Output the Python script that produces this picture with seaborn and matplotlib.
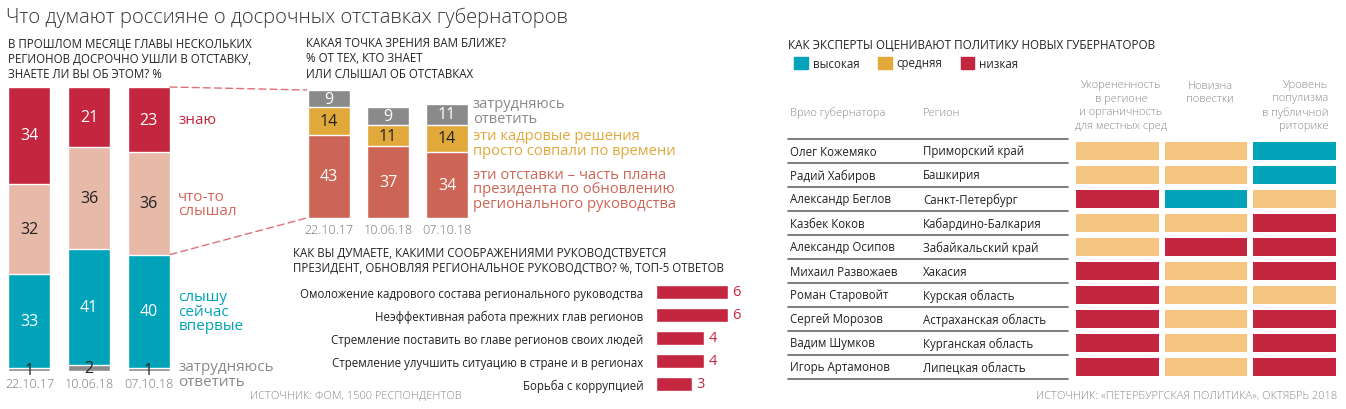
import matplotlib
matplotlib.use('Agg')
import matplotlib.pyplot as plt
import matplotlib.transforms as mtransforms
from matplotlib.colors import ListedColormap
from matplotlib.patches import Patch, ConnectionPatch
import seaborn as sns
import pandas as pd
import numpy as np

# --- данные ---
dates = ['22.10.17', '10.06.18', '07.10.18']

# панель 1: знаете ли вы об отставках, %
know = [34, 21, 23]
heard = [32, 36, 36]
first_time = [33, 41, 40]
hard1 = [1, 2, 1]

# панель 2: какая точка зрения ближе, %
plan = [43, 37, 34]
coincide = [14, 11, 14]
hard2 = [9, 9, 11]

# панель 3: топ-5 ответов
reasons = ['Омоложение кадрового состава регионального руководства',
           'Неэффективная работа прежних глав регионов',
           'Стремление поставить во главе регионов своих людей',
           'Стремление улучшить ситуацию в стране и в регионах',
           'Борьба с коррупцией']
shares = [6, 6, 4, 4, 3]

# панель 4: оценки экспертов
governors = ['Олег Кожемяко', 'Радий Хабиров', 'Александр Беглов', 'Казбек Коков',
             'Александр Осипов', 'Михаил Развожаев', 'Роман Старовойт',
             'Сергей Морозов', 'Вадим Шумков', 'Игорь Артамонов']
regions = ['Приморский край', 'Башкирия', 'Санкт-Петербург', 'Кабардино-Балкария',
           'Забайкальский край', 'Хакасия', 'Курская область',
           'Астраханская область', 'Курганская область', 'Липецкая область']
levels = ['высокая', 'средняя', 'низкая']
rooted = ['средняя', 'средняя', 'низкая', 'средняя', 'средняя',
          'низкая', 'низкая', 'низкая', 'низкая', 'низкая']
novelty = ['средняя', 'средняя', 'высокая', 'средняя', 'низкая',
           'средняя', 'средняя', 'средняя', 'средняя', 'средняя']
populism = ['высокая', 'высокая', 'средняя', 'низкая', 'низкая',
            'низкая', 'средняя', 'низкая', 'низкая', 'низкая']

# --- цвета ---
RED = '#C4263F'
PINK = '#E7B9A9'
TEAL = '#00A3B8'
GRAY = '#8A8A8A'
SALMON = '#CD6556'
GOLD = '#E1A83A'
LIGHTGOLD = '#F5C682'
DARK = '#222222'
LIGHT = '#888888'

sns.set_style('white')
plt.rcParams['font.family'] = ['Open Sans', 'DejaVu Sans']

W, H = 1346, 410
fig = plt.figure(figsize=(W / 100, H / 100), dpi=100)


def px_axes(x0, y0, x1, y1):
    ax = fig.add_axes([x0 / W, 1 - y1 / H, (x1 - x0) / W, (y1 - y0) / H])
    return ax


def ftext(x, y, s, **kw):
    fig.text(x / W, 1 - y / H, s, **kw)


def clean(ax):
    sns.despine(ax=ax, left=True, bottom=True)
    ax.set_xlabel('')
    ax.set_ylabel('')


# заголовок
ftext(6, 18, 'Что думают россияне о досрочных отставках губернаторов',
      fontsize=14.5, fontweight='light', color='#333333', va='center')

# ---------- панель 1 ----------
ftext(8, 59, 'В ПРОШЛОМ МЕСЯЦЕ ГЛАВЫ НЕСКОЛЬКИХ\nРЕГИОНОВ ДОСРОЧНО УШЛИ В ОТСТАВКУ,\nЗНАЕТЕ ЛИ ВЫ ОБ ЭТОМ? %',
      fontsize=8.3, color=DARK, va='center', linespacing=1.25)

df1 = pd.DataFrame({'date': dates, 'know': know, 'heard': heard,
                    'first': first_time, 'hard': hard1})
ax1 = px_axes(8, 88, 170, 372)
layers1 = [('know', RED), ('heard', PINK), ('first', TEAL), ('hard', GRAY)]
cols1 = ['hard', 'first', 'heard', 'know']
for name, col in layers1:
    top = df1[cols1[:cols1.index(name) + 1]].sum(axis=1)
    sns.barplot(x=df1['date'], y=top, color=col, saturation=1, width=0.706, ax=ax1)
ax1.set_xlim(-0.36, 2.36)
ax1.set_ylim(0, 100)
ax1.set_xticks([])
ax1.set_yticks([])
clean(ax1)

txtcol1 = {'know': 'white', 'heard': DARK, 'first': 'white', 'hard': DARK}
for i in range(3):
    base = 0
    for name in cols1:
        v = df1[name][i]
        ax1.text(i, base + v / 2, str(v), ha='center', va='center',
                 fontsize=11.5, color=txtcol1[name], clip_on=False)
        base += v
    ax1.text(i, -4.3, dates[i], ha='center', va='center', fontsize=9,
             color='#777777', fontweight='light', clip_on=False)

# подписи категорий по третьему столбцу
c_know = 100 - know[2] / 2
c_heard = hard1[2] + first_time[2] + heard[2] / 2
c_first = hard1[2] + first_time[2] / 2
ax1.text(2.5, c_know, 'знаю', color=RED, fontsize=11, va='center', clip_on=False)
ax1.text(2.5, c_heard, 'что-то\nслышал', color='#D4665C', fontsize=11, va='center',
         linespacing=0.95, clip_on=False)
ax1.text(2.5, c_first, 'слышу\nсейчас\nвпервые', color=TEAL, fontsize=11, va='center',
         linespacing=0.95, clip_on=False)
ax1.text(2.5, -1, 'затрудняюсь\nответить', color=GRAY, fontsize=11, va='center',
         linespacing=0.95, clip_on=False)

# ---------- панель 2 ----------
ftext(306, 59, 'КАКАЯ ТОЧКА ЗРЕНИЯ ВАМ БЛИЖЕ?\n% ОТ ТЕХ, КТО ЗНАЕТ\nИЛИ СЛЫШАЛ ОБ ОТСТАВКАХ',
      fontsize=8.3, color=DARK, va='center', linespacing=1.25)

df2 = pd.DataFrame({'date': dates, 'plan': plan, 'coincide': coincide, 'hard': hard2})
ax2 = px_axes(299.5, 91, 476.5, 219)
cols2 = ['plan', 'coincide', 'hard']
for name, col in [('hard', GRAY), ('coincide', GOLD), ('plan', SALMON)]:
    top = df2[cols2[:cols2.index(name) + 1]].sum(axis=1)
    sns.barplot(x=df2['date'], y=top, color=col, saturation=1, width=0.71, ax=ax2)
ax2.set_xlim(-0.5, 2.5)
ax2.set_ylim(0, 66)
ax2.set_xticks([])
ax2.set_yticks([])
clean(ax2)

txtcol2 = {'plan': 'white', 'coincide': DARK, 'hard': 'white'}
for i in range(3):
    base = 0
    for name in cols2:
        v = df2[name][i]
        ax2.text(i, base + v / 2, str(v), ha='center', va='center',
                 fontsize=11.5, color=txtcol2[name], clip_on=False)
        base += v
    ax2.text(i, -5.8, dates[i], ha='center', va='center', fontsize=9,
             color='#777777', fontweight='light', clip_on=False)

ftext(473, 112, 'затрудняюсь\nответить', color=GRAY, fontsize=10.6, va='center', linespacing=0.95)
ftext(473, 144, 'эти кадровые решения\nпросто совпали по времени', color=GOLD, fontsize=10.6,
      va='center', linespacing=0.95)
ftext(473, 190, 'эти отставки – часть плана\nпрезидента по обновлению\nрегионального руководства',
      color=SALMON, fontsize=10.6, va='center', linespacing=0.95)

# пунктирные связи
for yA, yB in [(100, sum([plan[0], coincide[0], hard2[0]])), (hard1[2] + first_time[2], 0)]:
    con = ConnectionPatch(xyA=(2.36, yA), coordsA=ax1.transData,
                          xyB=(-0.38, yB), coordsB=ax2.transData,
                          color='#E0707A', lw=1, linestyle=(0, (5, 3)))
    fig.add_artist(con)

# ---------- панель 3 ----------
ftext(293, 261, 'КАК ВЫ ДУМАЕТЕ, КАКИМИ СООБРАЖЕНИЯМИ РУКОВОДСТВУЕТСЯ\nПРЕЗИДЕНТ, ОБНОВЛЯЯ РЕГИОНАЛЬНОЕ РУКОВОДСТВО? %, ТОП-5 ОТВЕТОВ',
      fontsize=8.3, color=DARK, va='center', linespacing=1.25)
ax3 = px_axes(656, 281.5, 728, 396.5)
sns.barplot(x=shares, y=reasons, orient='h', color=RED, saturation=1, width=0.65, ax=ax3)
ax3.set_xlim(0, 6)
ax3.set_ylim(4.5, -0.5)
ax3.set_xticks([])
ax3.tick_params(axis='y', length=0, pad=9, labelsize=8.3, labelcolor=DARK)
clean(ax3)
for i, v in enumerate(shares):
    ax3.text(v + 0.35, i, str(v), color=RED, fontsize=10.5, va='center', clip_on=False)

ftext(250, 397, 'ИСТОЧНИК: ФОМ, 1500 РЕСПОНДЕНТОВ', fontsize=8, color=LIGHT,
      fontweight='light', va='center')

# ---------- панель 4 ----------
ftext(788, 45, 'КАК ЭКСПЕРТЫ ОЦЕНИВАЮТ ПОЛИТИКУ НОВЫХ ГУБЕРНАТОРОВ',
      fontsize=8.4, color=DARK, va='center')
handles = [Patch(color=c, label=l) for c, l in zip([TEAL, GOLD, RED], levels)]
fig.legend(handles=handles, loc='center left', bbox_to_anchor=(784 / W, 1 - 64 / H),
           ncol=3, frameon=False, fontsize=8.3, handlelength=1.2, handleheight=1.2,
           handletextpad=0.4, columnspacing=1.6)

codes = {l: k for k, l in enumerate(levels)}
mat = pd.DataFrame({'rooted': [codes[v] for v in rooted],
                    'novelty': [codes[v] for v in novelty],
                    'populism': [codes[v] for v in populism]}, index=governors)
ax4 = px_axes(1073, 140, 1339, 380)
sns.heatmap(mat, cmap=ListedColormap([TEAL, LIGHTGOLD, RED]), vmin=0, vmax=2,
            cbar=False, linewidths=4, linecolor='white', ax=ax4)
ax4.set_xticks([])
ax4.set_yticks([])
clean(ax4)

blend = mtransforms.blended_transform_factory(fig.transFigure, ax4.transData)
for i, (g, r) in enumerate(zip(governors, regions)):
    ax4.text(790 / W, i + 0.5, g, transform=blend, fontsize=8.3, color=DARK,
             va='center', clip_on=False)
    ax4.text(923 / W, i + 0.5, r, transform=blend, fontsize=8.3, color=DARK,
             va='center', clip_on=False)
for k in range(len(governors) + 1):
    ax4.plot([788 / W, 1068 / W], [k, k], transform=blend, color='#666666',
             lw=1.2, clip_on=False)

ftext(790, 113, 'Врио губернатора', fontsize=8, color=LIGHT, fontweight='light', va='center')
ftext(923, 113, 'Регион', fontsize=8, color=LIGHT, fontweight='light', va='center')
ftext(1121, 106, 'Укорененность\nв регионе\nи органичность\nдля местных сред', fontsize=8,
      color=LIGHT, fontweight='light', va='center', ha='center', linespacing=1.3)
ftext(1210, 93, 'Новизна\nповестки', fontsize=8, color=LIGHT, fontweight='light',
      va='center', ha='center', linespacing=1.3)
ftext(1328, 106, 'Уровень\nпопулизма\nв публичной\nриторике', fontsize=8, color=LIGHT,
      fontweight='light', va='center', ha='right', multialignment='right', linespacing=1.3)

ftext(1337, 397, 'ИСТОЧНИК: «ПЕТЕРБУРГСКАЯ ПОЛИТИКА», ОКТЯБРЬ 2018', fontsize=8,
      color=LIGHT, fontweight='light', va='center', ha='right')

fig.savefig('out.png', dpi=100)
